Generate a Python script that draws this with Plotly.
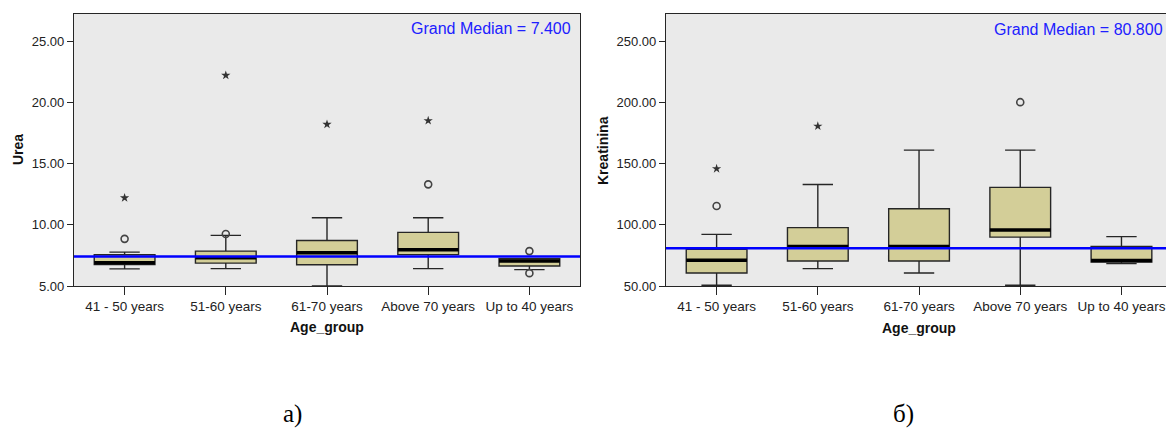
import plotly.graph_objects as go

categories = ["41 - 50 years", "51-60 years", "61-70 years", "Above 70 years", "Up to 40 years"]

# Urea box statistics
urea_lower = [6.40, 6.42, 5.00, 6.42, 6.34]
urea_q1 = [6.75, 6.87, 6.74, 7.56, 6.63]
urea_median = [6.90, 7.30, 7.72, 7.97, 7.04]
urea_q3 = [7.55, 7.85, 8.72, 9.38, 7.23]
urea_upper = [7.77, 9.13, 10.57, 10.57, 7.23]
urea_circle_x = [0, 1, 3, 4, 4]
urea_circle_y = [8.85, 9.25, 13.3, 7.85, 6.05]
urea_star_x = [0, 1, 2, 3]
urea_star_y = [12.2, 22.2, 18.2, 18.5]
urea_grand_median = 7.4

# Kreatinina box statistics
krea_lower = [50.6, 64.2, 60.6, 50.6, 68.3]
krea_q1 = [60.6, 70.4, 70.4, 90.0, 69.6]
krea_median = [71.0, 82.2, 82.2, 95.8, 70.8]
krea_q3 = [80.0, 97.7, 113.2, 130.6, 82.4]
krea_upper = [92.2, 133.0, 161.1, 161.1, 90.4]
krea_circle_x = [0, 3]
krea_circle_y = [115.4, 200.3]
krea_star_x = [0, 1]
krea_star_y = [145.9, 180.7]
krea_grand_median = 80.8

W, H = 1166, 432
BOX_FILL = "#D3CE98"
LINE = "#262626"
BG = "#EAEAEA"
FONT = "Liberation Sans"

fig = go.Figure()

def add_panel(xa, ya, lower, q1, med, q3, upper, cx, cy, sx, sy):
    pos = list(range(len(categories)))
    fig.add_trace(go.Box(
        x=pos, q1=q1, median=med, q3=q3, lowerfence=lower, upperfence=upper,
        width=0.6, whiskerwidth=0.5, boxpoints=False,
        fillcolor=BOX_FILL, line=dict(color=LINE, width=1.4),
        xaxis=xa, yaxis=ya, showlegend=False, hoverinfo="skip"))
    mx, my = [], []
    for p, m in zip(pos, med):
        mx += [p - 0.3, p + 0.3, None]
        my += [m, m, None]
    fig.add_trace(go.Scatter(x=mx, y=my, mode="lines",
                             line=dict(color="black", width=3.5),
                             xaxis=xa, yaxis=ya, showlegend=False, hoverinfo="skip"))
    fig.add_trace(go.Scatter(x=cx, y=cy, mode="markers",
                             marker=dict(symbol="circle-open", size=7, color="#444",
                                         line=dict(width=1.6, color="#444")),
                             xaxis=xa, yaxis=ya, showlegend=False, hoverinfo="skip"))
    fig.add_trace(go.Scatter(x=sx, y=sy, mode="markers",
                             marker=dict(symbol="star", size=7, color="#333"),
                             xaxis=xa, yaxis=ya, showlegend=False, hoverinfo="skip"))

add_panel("x", "y", urea_lower, urea_q1, urea_median, urea_q3, urea_upper,
          urea_circle_x, urea_circle_y, urea_star_x, urea_star_y)
add_panel("x2", "y2", krea_lower, krea_q1, krea_median, krea_q3, krea_upper,
          krea_circle_x, krea_circle_y, krea_star_x, krea_star_y)

ydom = [1 - 286 / H, 1 - 13.5 / H]
xtickfont = dict(family=FONT, size=13.5, color="#222")
ytickfont = dict(family=FONT, size=13, color="#222")
common_x = dict(tickvals=list(range(len(categories))), ticktext=categories,
                ticks="outside", ticklen=8, tickcolor=LINE, showline=True,
                linecolor=LINE, linewidth=1.3, showgrid=False, zeroline=False,
                tickfont=xtickfont, mirror=True, fixedrange=True, automargin=False)
common_y = dict(ticks="outside", ticklen=6, tickcolor=LINE, showline=True,
                linecolor=LINE, linewidth=1.3, showgrid=False, zeroline=False,
                tickfont=ytickfont, tickformat=".2f", fixedrange=True, automargin=False)

fig.update_layout(
    width=W, height=H,
    margin=dict(l=0, r=0, t=0, b=0, autoexpand=False),
    paper_bgcolor="white", plot_bgcolor=BG,
    xaxis=dict(domain=[74 / W, 580 / W], range=[-0.5, 4.5], anchor="y", **common_x),
    yaxis=dict(domain=ydom, range=[5, 27.25], tickvals=[5, 10, 15, 20, 25],
               anchor="x", mirror=True, **common_y),
    xaxis2=dict(domain=[666 / W, 1.0], range=[-0.5, 4.44], anchor="y2", **common_x),
    yaxis2=dict(domain=ydom, range=[50, 272.8], tickvals=[50, 100, 150, 200, 250],
                anchor="x2", mirror=False, **common_y),
    showlegend=False,
)

fig.add_shape(type="line", xref="x domain", yref="y", x0=0, x1=1,
              y0=urea_grand_median, y1=urea_grand_median,
              line=dict(color="#0000FF", width=2.5), layer="above")
fig.add_shape(type="line", xref="x2 domain", yref="y2", x0=0, x1=1,
              y0=krea_grand_median, y1=krea_grand_median,
              line=dict(color="#0000FF", width=2.5), layer="above")

ann_font_blue = dict(family=FONT, size=16, color="#2020FF")
bold = dict(family=FONT, size=14, color="#111")
fig.add_annotation(text=f"Grand Median = {urea_grand_median:.3f}", xref="paper", yref="paper",
                   x=573 / W, y=1 - 28.5 / H, xanchor="right", yanchor="middle",
                   showarrow=False, font=ann_font_blue)
fig.add_annotation(text=f"Grand Median = {krea_grand_median:.3f}", xref="paper", yref="paper",
                   x=1165 / W, y=1 - 29.5 / H, xanchor="right", yanchor="middle",
                   showarrow=False, font=ann_font_blue)
fig.add_annotation(text="<b>Urea</b>", xref="paper", yref="paper", x=18 / W, y=1 - 150 / H,
                   textangle=-90, showarrow=False, font=bold, xanchor="center", yanchor="middle")
fig.add_annotation(text="<b>Kreatinina</b>", xref="paper", yref="paper", x=603 / W, y=1 - 151 / H,
                   textangle=-90, showarrow=False, font=bold, xanchor="center", yanchor="middle")
fig.add_annotation(text="<b>Age_group</b>", xref="paper", yref="paper", x=327 / W, y=1 - 327 / H,
                   showarrow=False, font=bold, xanchor="center", yanchor="middle")
fig.add_annotation(text="<b>Age_group</b>", xref="paper", yref="paper", x=919 / W, y=1 - 328 / H,
                   showarrow=False, font=bold, xanchor="center", yanchor="middle")
cap_font = dict(family="Liberation Serif", size=25, color="black")
fig.add_annotation(text="a)", xref="paper", yref="paper", x=292 / W, y=1 - 414 / H,
                   showarrow=False, font=cap_font, xanchor="center", yanchor="middle")
fig.add_annotation(text="б)", xref="paper", yref="paper", x=903 / W, y=1 - 414 / H,
                   showarrow=False, font=cap_font, xanchor="center", yanchor="middle")

fig.write_html("out.html")
